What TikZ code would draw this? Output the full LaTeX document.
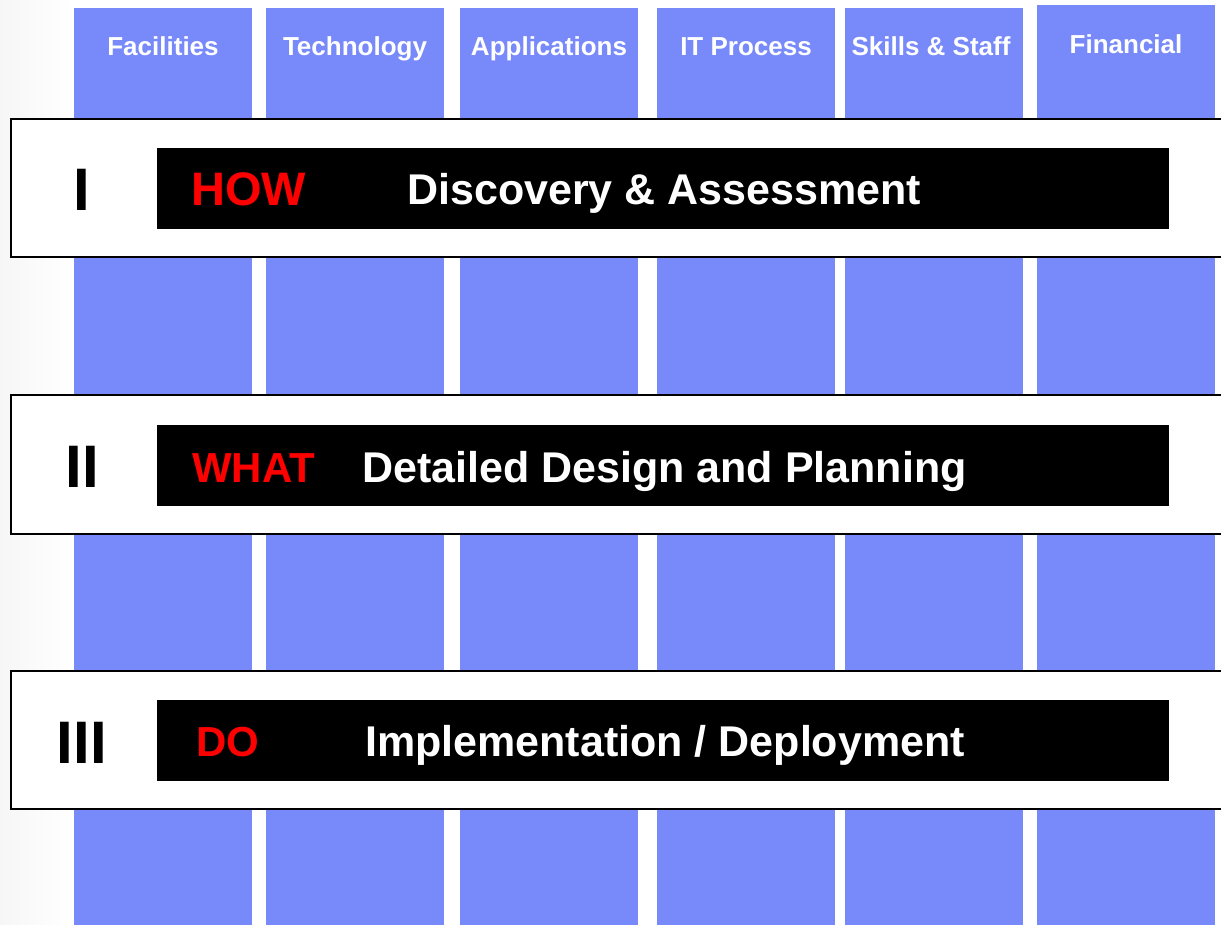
\documentclass[tikz,border=0pt]{standalone}
\usepackage{fontspec}
\setmainfont{Liberation Sans}
\definecolor{colblue}{RGB}{120,138,250}
\definecolor{pure red}{RGB}{255,0,0}
\tikzset{
  colbox/.style={fill=colblue, draw=none},
  band/.style={fill=white, draw=black, line width=2pt},
  bar/.style={fill=black, draw=none},
  collabel/.style={anchor=base, inner sep=0pt, text=white, font=\fontsize{26}{30}\selectfont\bfseries},
  keyword/.style={anchor=base west, inner sep=0pt, text=pure red, font=\fontsize{42}{48}\selectfont\bfseries},
  phase/.style={anchor=base west, inner sep=0pt, text=white, font=\fontsize{43}{48}\selectfont\bfseries},
  roman/.style={anchor=base, inner sep=0pt, text=black, font=\fontsize{60}{66}\selectfont\bfseries}
}
\begin{document}
\begin{tikzpicture}[x=1pt,y=-1pt]
\useasboundingbox (0,0) rectangle (1221,925);
\fill[white] (0,0) rectangle (1221,925);
\shade[left color=gray!7, right color=white] (0,0) rectangle (72,925);
% columns
\fill[colbox] (74,8) rectangle (252,925);
\fill[colbox] (266,8) rectangle (444,925);
\fill[colbox] (460,8) rectangle (638,925);
\fill[colbox] (657,8) rectangle (835,925);
\fill[colbox] (845,8) rectangle (1023,925);
\fill[colbox] (1037,5) rectangle (1215,925);
% column labels
\node[collabel] (l1) at (163,56) {Facilities};
\node[collabel] (l2) at (355,56) {Technology};
\node[collabel] (l3) at (549,56) {Applications};
\node[collabel] (l4) at (746,56) {IT Process};
\node[collabel] (l5) at (931,56) {Skills \& Staff};
\node[collabel] (l6) at (1126,54) {Financial};
% bands
\draw[band] (11,119) rectangle (1232,257);
\draw[band] (11,395) rectangle (1232,534);
\draw[band] (11,671) rectangle (1232,809);
% bars
\fill[bar] (157,148) rectangle (1169,229);
\fill[bar] (157,425) rectangle (1169,506);
\fill[bar] (157,700) rectangle (1169,781);
% roman numerals
\node[roman] (r1) at (82,211) {I};
\node[roman] (r2) at (82,487) {II};
\node[roman] (r3) at (82,763) {III};
% texts
\node[keyword, font=\fontsize{47}{52}\selectfont\bfseries] (k1) at (191,206) {HOW};
\node[phase] (p1) at (407,205) {Discovery \& Assessment};
\node[keyword] (k2) at (192,482) {WHAT};
\node[phase] (p2) at (362,482) {Detailed Design and Planning};
\node[keyword] (k3) at (196,756) {DO};
\node[phase] (p3) at (365,756) {Implementation / Deployment};
\end{tikzpicture}
\end{document}
